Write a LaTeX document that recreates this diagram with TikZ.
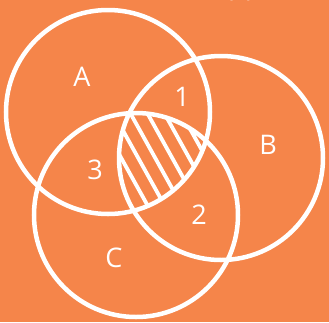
\documentclass[tikz,border=0pt]{standalone}
\usepackage{fontspec}
\setmainfont{Open Sans}
\usetikzlibrary{calc}
\definecolor{bg}{HTML}{F5854A}
\begin{document}
\begin{tikzpicture}[x=1pt,y=-1pt,
  circ/.style={draw=white,line width=4.5pt},
  hatch/.style={draw=white,line width=3.8pt},
  lab/.style={text=white,font=\fontsize{27}{27}\selectfont,inner sep=0pt}]
\fill[bg] (0,0) rectangle (329,322);
\useasboundingbox (0,0) rectangle (329,322);
\coordinate (ca) at (108,112);
\coordinate (cb) at (221,158);
\coordinate (cc) at (136,215);
\begin{scope}
  \clip (ca) circle (102pt);
  \clip (cb) circle (102pt);
  \clip (cc) circle (102pt);
  \foreach \i in {-12,...,12}
    \draw[hatch] ($(133,118)+(\i*17,0)+(-70,-126)$) -- ++(140,252);
\end{scope}
\draw[circ] (ca) circle (102pt);
\draw[circ] (cb) circle (102pt);
\draw[circ] (cc) circle (102pt);
\node[lab] (A) at (82,77) {A};
\node[lab] (B) at (268,145) {B};
\node[lab] (C) at (114,258) {C};
\node[lab] (n1) at (182,97) {1};
\node[lab] (n2) at (199,215) {2};
\node[lab] (n3) at (95,170) {3};
\begin{scope}
  \clip (0,0) rectangle (329,322);
  \node[lab,anchor=base] (top) at (240,-3.5) {(c)};
\end{scope}
\end{tikzpicture}
\end{document}
